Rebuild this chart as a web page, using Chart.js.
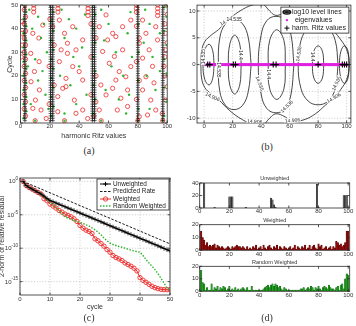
<!DOCTYPE html>
<html>
<head>
<meta charset="utf-8">
<script src="https://cdn.jsdelivr.net/npm/chart.js@4.4.1/dist/chart.umd.min.js"></script>
<style>
  html, body { margin: 0; padding: 0; background: #fff; }
  body { width: 356px; height: 326px; position: relative; overflow: hidden; }
  canvas { position: absolute; }
  .cap { position: absolute; width: 40px; margin-left: -20px; text-align: center;
         font: 10px "Liberation Serif", "DejaVu Serif", serif; color: #333; line-height: 10px; }
</style>
</head>
<body>
<canvas id="chartA" width="172" height="141" style="left:0;top:0"></canvas>
<canvas id="chartB" width="178" height="141" style="left:178px;top:0"></canvas>
<canvas id="chartC" width="178" height="150" style="left:0;top:163px"></canvas>
<canvas id="chartD1" width="178" height="50" style="left:178px;top:170px"></canvas>
<canvas id="chartD2" width="178" height="50" style="left:178px;top:212px"></canvas>
<canvas id="chartD3" width="178" height="50" style="left:178px;top:253px"></canvas>
<div class="cap" style="left:89px;top:146px">(a)</div>
<div class="cap" style="left:267px;top:142px">(b)</div>
<div class="cap" style="left:89px;top:313px">(c)</div>
<div class="cap" style="left:267px;top:313px">(d)</div>
<script>
// ---- data ----
const cycles = [1,2,3,4,5,6,7,8,9,10,11,12,13,14,15,16,17,18,19,20,21,22,23,24,25,
  26,27,28,29,30,31,32,33,34,35,36,37,38,39,40,41,42,43,44,45,46,47,48,49,50];
const eigs = [1,2,3,4,5,6,7,8,9,10,11,12,13,14,15,16,17,18,19,20,21,22,23,24,25,
  26,27,28,29,30,31,32,33,34,35,36,37,38,39,40,41,42,43,44,45,46,47,48,49,50,
  51,52,53,54,55,56,57,58,59,60,61,62,63,64,65,66,67,68,69,70,71,72,73,74,75,
  76,77,78,79,80,81,82,83,84,85,86,87,88,89,90,91,92,93,94,95,96,97,98,99,100];

// (a) harmonic Ritz values per cycle
const ritzTracks = [3, 20.5, 22, 49, 50.5, 80, 97];
const weightedRitz = [
  [3.5,3],[2.5,6],[3.5,9],[2.5,12],[3.5,15],[2.5,18],[3.5,21],[2.5,24],[3.5,27],[2.5,30],[3.5,33],
  [2.5,36],[3.5,39],[2.5,42],[3.5,45],[2.5,48],[3,50],[1,33],[1,38],[1,43],[0.5,28],
  [9,50],[9,48.5],[9,47],[25.5,50],[25.5,48.5],[25.5,47],[46,50],[46,48.5],[46,47],[46,45.5],
  [79,50],[79,48.5],[79,47],[93.5,50],[93.5,48.5],[93.5,47],[93.5,45.5],
  [8.4,38],[15.2,41.5],[12.5,36],[7,29.5],[12.7,26],[9.5,21.8],[7.2,17.5],[12.9,14],[10.2,9.7],
  [14,5.5],[17.5,1.9],[8.4,6.2],[22,40.8],[26.5,43.6],[30,38],[35.6,40.8],[32,33.8],[37.8,31],
  [42.4,35.2],[32,29.5],[26.5,26],[35.6,23.9],[40,21.8],[42.4,18.2],[31,15.4],[25.4,11.2],
  [36.7,9.7],[42.4,5.5],[37.8,4.1],[25.4,4.8],[45.8,1.9],[31,18.9],[27.7,31],[28.8,14.7],
  [53.7,40.8],[58.3,45.8],[62.8,38],[59.4,35.2],[65,36.6],[56,30.3],[64,28.2],[69.6,31],
  [60.5,25.3],[67.3,21.8],[71.8,19.6],[65,18.2],[62.8,14.7],[58.3,11.9],[68.4,10.5],[73,7],
  [66,5.5],[53.7,5.5],[51.4,9],[54.8,16.1],[69.6,40.8],[75.2,43.6],[73,14],[75.2,23.9],
  [83.2,43.6],[85.5,38],[81,33.8],[87.7,31],[83.2,27.5],[90,24],[85.5,19.6],[91,17],[83.2,14],
  [88.8,9.7],[92.2,5.5],[86.6,3.4],[81,2.7],[93.4,35.2],[92.2,40.8],[99,38],[99,31],[97.8,24],
  [100,15.4],[99,9.7],[96.6,4],
  [19.5,8],[23,16],[19.5,24],[23,33],[20,44],[48,12],[51.5,20],[48,28],[51.5,36],[48,42],[50,3],
  [79,10],[81,18],[79,26],[81,36],[79,41],[98.5,20],[98.5,28],[100,34],[98.5,42],[100,46],[99.5,50],
  [10,1],[30,1],[55,1],[80,1],[97,1]
];
const randomRitz = [
  [2,2],[4,5],[2,8],[4,11],[2,14],[4,17],[2,20],[4,23],[2,26],[4,29],[2,32],[4,35],[2,38],[4,41],
  [2,44],[4,47],[2,50],
  [21,3],[22.5,7],[21,11],[22.5,15],[21,19],[22.5,23],[21,27],[22.5,31],[21,35],[22.5,39],[21,43],[22.5,47],
  [49.5,4],[51,10],[49.5,16],[51,22],[49.5,28],[51,34],[49.5,40],[51,46],[49.5,50],
  [80.5,6],[80.5,18],[80.5,30],[80.5,42],
  [98,3],[99.5,9],[98,15],[99.5,21],[98,27],[99.5,33],[98,39],[99.5,45],[98,49],
  [6,48],[12,45],[16,42],[8,40],[14,36],[18,30],[10,27],[5,24],[15,22],[12,18],[17,12],[7,8],[19,6],
  [28,48],[33,44],[38,40],[30,36],[36,28],[42,32],[40,24],[27,20],[34,16],[45,12],[38,8],[30,4],
  [44,46],[55,48],[60,42],[57,35],[65,30],[62,24],[70,20],[58,14],[67,10],[72,4],[75,47],[73,38],
  [76,28],[74,12],[85,48],[88,42],[84,34],[90,28],[86,20],[92,14],[88,6],[95,38],[95,22],
  [10,1],[30,1],[55,1],[80,1],[97,1]
];

// (b) level lines of log10 |p(z)| and final values
const finalRitz = [2.5, 4, 20.5, 22, 48.5, 50.5, 80, 97, 98.5, 100];
const level14906 = [[
  [-2.3,0],[-1.8,2.5],[0.5,4.3],[5,5.5],[10,6.5],[18,8.6],[27,10.3],[35,11.2],[41,11.3],[46,10],
  [50,9.2],[55,9.5],[62,10.5],[70,10.3],[78,9.2],[85,7.6],[91,6.2],[96,4.6],[100,2.8],[102,0],
  [100,-2.8],[96,-4.6],[91,-6.2],[85,-7.6],[78,-9.2],[70,-10.3],[62,-10.5],[55,-9.5],[50,-9.2],
  [46,-10],[41,-11.3],[35,-11.2],[27,-10.3],[18,-8.6],[10,-6.5],[5,-5.5],[0.5,-4.3],[-1.8,-2.5],[-2.3,0]
]];
const level14535 = [
  [[7,0],[6,2.6],[3.5,3.8],[0.5,2.8],[-0.8,0],[0.5,-2.8],[3.5,-3.8],[6,-2.6],[7,0]],
  [[33,0],[31,5],[27,7.6],[21,8.4],[15,7.6],[11,5],[10,0],[11,-5],[15,-7.6],[21,-8.4],[27,-7.6],[31,-5],[33,0]],
  [[63,0],[61,5.5],[57,8.2],[50.5,9],[44,8.2],[40,5.5],[38,0],[40,-5.5],[44,-8.2],[50.5,-9],[57,-8.2],[61,-5.5],[63,0]],
  [[94,0],[92,4.5],[87,6.8],[80,7.5],[73,6.8],[68,4.5],[66,0],[68,-4.5],[73,-6.8],[80,-7.5],[87,-6.8],[92,-4.5],[94,0]],
  [[101.5,0],[101,2.5],[98.5,3.5],[96,2.5],[95,0],[96,-2.5],[98.5,-3.5],[101,-2.5],[101.5,0]]
];
const level144 = [
  [[26,0],[25,3.8],[21.5,5.5],[18,3.8],[17,0],[18,-3.8],[21.5,-5.5],[25,-3.8],[26,0]],
  [[57,0],[56,4.5],[51,6.5],[46,4.5],[45,0],[46,-4.5],[51,-6.5],[56,-4.5],[57,0]],
  [[84,0],[83,2.5],[80,3.5],[77,2.5],[76,0],[77,-2.5],[80,-3.5],[83,-2.5],[84,0]]
];
const levelLabels = [
  ['14.906',16,8.2,-28],['14.906',6,-6,25],['14.906',35.5,-10.6,5],['14.906',62,-10.4,-5],['14.906',91,-6.2,-30],
  ['14.535',21,8.4,0],['14.535',10.2,-1,90],['14.535',39,-3.5,70],['14.535',58,-7.8,-45],['14.535',66.3,2,-80],
  ['14.535',92.8,-3.5,-65],['14.535',-0.6,1.5,-90],
  ['14.4',25.7,1.8,90],['14.4',45.3,-1.8,90],['14.4',76.3,1.5,90]
];

// (c) residual norms, log10
const unweightedLog = [0,-0.6,-0.9,-1.15,-1.4,-1.65,-1.9,-2.2,-2.55,-2.85,-3.04,-3.23,-3.42,-3.6,-3.8,
  -3.99,-4.17,-4.36,-4.55,-4.74,-4.93,-5.12,-5.3,-5.49,-5.68,-5.87,-6.06,-6.25,-6.44,-6.63,-6.82,-7.0,
  -7.19,-7.38,-7.57,-7.76,-7.95,-8.14,-8.33,-8.52,-8.7,-8.89,-9.08,-9.27,-9.46,-9.65,-9.84,-10.03,-10.22,-10.4];
const predictedLog = [[1,0],[50,-9.35]];
const weightedLog = [0,-0.6,-0.9,-1.15,-1.4,-1.65,-1.9,-2.6,-2.9,-3.4,-3.7,-4.0,-4.35,-4.6,-4.9,-5.1,-5.3,
  -5.6,-6.0,-6.6,-7.0,-7.3,-7.5,-7.8,-8.6,-8.9,-9.3,-9.7,-10.2,-10.6,-11.1,-11.4,-11.6,-11.85,-12.2,-12.45,
  -12.7,-13.0,-13.4,-14.4,-14.8,-15.1,-15.4,-15.7,-15.9,-16.05,-16.15,-16.2,-16.2,-16.2];
const randomLog = [0,-0.6,-0.9,-1.15,-1.4,-1.65,-1.9,-2.3,-2.7,-3.1,-3.5,-3.9,-4.4,-4.9,-5.3,-5.5,-5.7,
  -5.85,-6.0,-6.1,-6.3,-6.5,-6.7,-6.95,-7.25,-7.6,-8.0,-8.5,-8.9,-9.25,-9.45,-9.6,-9.75,-9.85,-10.0,
  -10.15,-10.3,-10.4,-10.5,-10.6,-11.1,-11.7,-12.2,-12.7,-13.2,-13.8,-14.5,-15.2,-16.0,-16.2];
const residualTickExp = [0, -5, -10, -15];

// (d) distribution over eigenvalues
const unweightedHist = [0,0,40,0,0,0,0,0,0,1, 0,0,0,0,0,0,0,0,0,18, 18,18,0,0,0,0,0,0,0,0,
  1,0,0,0,0,0,0,0,0,0, 0,0,0,0,0,0,0,16,13,5, 1,0,0,0,0,0,0,0,0,0, 0,0,0,0,0,0,0,0,0,0,
  0,0,0,0,0,0,0,0,38,1, 0,0,0,0,0,0,0,0,0,0, 0,0,0,0,0,0,20,20,20,0];
const weightedHist = [15,10,8,4,6,3,4,3,4,5, 2,4,3,2,3,2,1,2,3,2, 1,3,2,3,4,3,3,2,3,2,
  1,3,1,2,1,3,2,4,1,2, 3,1,4,2,1,3,4,2,1,3, 2,4,1,3,2,1,3,2,1,2, 3,1,2,4,1,3,2,1,3,2,
  4,1,2,4,1,3,4,2,1,5, 3,4,1,2,3,1,2,3,1,3, 2,7,6,4,5,3,4,6,15,15];
const randomHist = [17,7,6,1,3,1,1,6,1,3, 2,4,1,3,2,4,3,1,2,4, 1,2,1,3,1,2,1,2,3,2,
  1,3,1,1,4,1,1,1,1,1, 1,1,2,3,4,5,3,5,6,4, 6,5,3,4,2,1,3,2,1,1, 1,1,1,1,1,1,1,2,2,3,
  1,2,3,2,4,3,1,3,2,4, 2,1,3,4,3,2,5,3,2,2, 1,3,4,1,5,6,2,10,14,13];

// ---- helpers ----
const FONT = '"Liberation Sans", Arial, sans-serif';
const INK = '#333';

function scale(o) {
  return {
    type: o.type || 'linear',
    min: o.min, max: o.max, offset: false,
    afterBuildTicks: s => { s.ticks = o.ticks.map(v => ({ value: v })); },
    afterFit: s => {
      if (o.width !== undefined) s.width = o.width;
      if (o.height !== undefined) s.height = o.height;
      s.paddingLeft = 0; s.paddingRight = 0; s.paddingTop = 0; s.paddingBottom = 0;
    },
    ticks: { display: o.showLabels !== false, font: { family: FONT, size: 6 }, color: INK,
             padding: o.pad === undefined ? 1 : o.pad, autoSkip: false, maxRotation: 0,
             callback: v => String(v) },
    grid: { display: false, drawTicks: false },
    border: { display: false },
    title: o.title ? { display: true, text: o.title, color: INK,
                       font: { family: FONT, size: 7 }, padding: o.titlePad || 0 }
                   : { display: false }
  };
}

function baseOptions(padding, scales, frameOpts) {
  return {
    responsive: false, animation: false, events: [],
    layout: { padding },
    elements: { line: { capBezierPoints: false } },
    plugins: { legend: { display: false }, tooltip: { enabled: false }, frame: frameOpts || {} },
    scales
  };
}

// box, inward tick marks and optional dotted grid
const frame = {
  id: 'frame',
  beforeDatasetsDraw(chart, args, o) {
    if (!o.grid) return;
    const { ctx, chartArea: a } = chart;
    const xs = chart.scales.x, ys = chart.scales.y;
    ctx.save();
    ctx.strokeStyle = '#b0b0b0'; ctx.lineWidth = 0.7; ctx.setLineDash([1, 1.8]);
    xs.ticks.forEach(t => {
      const p = xs.getPixelForValue(t.value);
      ctx.beginPath(); ctx.moveTo(p, a.top); ctx.lineTo(p, a.bottom); ctx.stroke();
    });
    ys.ticks.forEach(t => {
      const p = ys.getPixelForValue(t.value);
      ctx.beginPath(); ctx.moveTo(a.left, p); ctx.lineTo(a.right, p); ctx.stroke();
    });
    ctx.restore();
  },
  afterDatasetsDraw(chart) {
    const { ctx, chartArea: a } = chart;
    const xs = chart.scales.x, ys = chart.scales.y;
    const len = 2.5;
    ctx.save();
    ctx.strokeStyle = '#2a2a2a'; ctx.lineWidth = 0.8; ctx.setLineDash([]);
    ctx.strokeRect(a.left, a.top, a.right - a.left, a.bottom - a.top);
    ctx.beginPath();
    xs.ticks.forEach(t => {
      const p = xs.getPixelForValue(t.value);
      ctx.moveTo(p, a.bottom); ctx.lineTo(p, a.bottom - len);
      ctx.moveTo(p, a.top); ctx.lineTo(p, a.top + len);
    });
    ys.ticks.forEach(t => {
      const p = ys.getPixelForValue(t.value);
      ctx.moveTo(a.left, p); ctx.lineTo(a.left + len, p);
      ctx.moveTo(a.right, p); ctx.lineTo(a.right - len, p);
    });
    ctx.stroke();
    ctx.restore();
  }
};

const toXY = pts => pts.map(p => ({ x: p[0], y: p[1] }));

// ---- (a) ----
const trackPts = [];
cycles.forEach(c => ritzTracks.forEach(x => trackPts.push({ x, y: c })));

new Chart(document.getElementById('chartA'), {
  type: 'scatter',
  data: { datasets: [
    { data: trackPts, pointStyle: 'cross', pointRadius: 2, pointBorderColor: '#000', pointBorderWidth: 0.6 },
    { data: toXY(randomRitz), pointRadius: 1.2, pointBackgroundColor: '#2fb52f', pointBorderWidth: 0 },
    { data: toXY(weightedRitz), pointRadius: 2.1, pointBackgroundColor: 'rgba(0,0,0,0)',
      pointBorderColor: '#ee2b2b', pointBorderWidth: 0.8 }
  ] },
  options: baseOptions({ top: 5, right: 4, left: 0, bottom: 0 }, {
    x: scale({ min: 0, max: 100, ticks: [0, 20, 40, 60, 80, 100], height: 18, pad: 0,
               title: 'harmonic Ritz values', titlePad: { top: 0, bottom: 0.8 } }),
    y: scale({ min: 0, max: 50, ticks: [0, 10, 20, 30, 40, 50], width: 20.5, pad: 2.5,
               title: 'Cycle', titlePad: { top: 5.8, bottom: 0 } })
  }),
  plugins: [frame]
});

// ---- (b) ----
const contourSets = [];
[level14906, level14535, level144].forEach(group => group.forEach(loop => contourSets.push({
  data: toXY(loop), showLine: true, tension: 0.4, pointRadius: 0, borderColor: '#1a1a1a', borderWidth: 0.8
})));

const extrasB = {
  id: 'extrasB',
  afterDatasetsDraw(chart) {
    const { ctx } = chart;
    const xs = chart.scales.x, ys = chart.scales.y;
    const a = chart.chartArea;
    ctx.save();
    ctx.beginPath(); ctx.rect(a.left, a.top, a.right - a.left, a.bottom - a.top); ctx.clip();
    ctx.font = '5px ' + FONT; ctx.textAlign = 'center'; ctx.textBaseline = 'middle';
    levelLabels.forEach(([t, x, y, r]) => {
      const px = xs.getPixelForValue(x), py = ys.getPixelForValue(y);
      ctx.save(); ctx.translate(px, py); ctx.rotate(r * Math.PI / 180);
      const w = ctx.measureText(t).width;
      ctx.fillStyle = '#fff'; ctx.fillRect(-w / 2 - 0.5, -2.5, w + 1, 5);
      ctx.fillStyle = '#222'; ctx.fillText(t, 0, 0.3);
      ctx.restore();
    });
    ctx.restore();
  },
  afterDraw(chart) {
    const { ctx, chartArea: a } = chart;
    const bx = a.right - 70, by = a.top + 2, bw = 68, bh = 26;
    ctx.save();
    ctx.fillStyle = '#fff'; ctx.fillRect(bx, by, bw, bh);
    ctx.strokeStyle = '#222'; ctx.lineWidth = 0.8; ctx.strokeRect(bx, by, bw, bh);
    const rows = [by + 5, by + 13, by + 21];
    ctx.fillStyle = '#111';
    ctx.beginPath(); ctx.ellipse(bx + 6, rows[0], 4.5, 2.6, 0, 0, Math.PI * 2); ctx.fill();
    ctx.strokeStyle = '#999'; ctx.lineWidth = 0.5;
    ctx.beginPath(); ctx.ellipse(bx + 6, rows[0], 2.6, 1.4, 0, 0, Math.PI * 2); ctx.stroke();
    ctx.fillStyle = '#e020e0';
    ctx.beginPath(); ctx.arc(bx + 6, rows[1], 1.2, 0, Math.PI * 2); ctx.fill();
    ctx.strokeStyle = '#000'; ctx.lineWidth = 1;
    ctx.beginPath(); ctx.moveTo(bx + 3.5, rows[2]); ctx.lineTo(bx + 8.5, rows[2]);
    ctx.moveTo(bx + 6, rows[2] - 2.5); ctx.lineTo(bx + 6, rows[2] + 2.5); ctx.stroke();
    ctx.fillStyle = '#222'; ctx.font = '7px ' + FONT; ctx.textBaseline = 'middle'; ctx.textAlign = 'left';
    ctx.fillText('log10 level lines', bx + 11, rows[0]);
    ctx.fillText('eigenvalues', bx + 14, rows[1]);
    ctx.fillText('harm. Ritz values', bx + 11, rows[2]);
    ctx.restore();
  }
};

new Chart(document.getElementById('chartB'), {
  type: 'scatter',
  data: { datasets: [
    { data: finalRitz.map(x => ({ x, y: 0 })), pointStyle: 'cross', pointRadius: 3,
      pointBorderColor: '#000', pointBorderWidth: 1.1 },
    { data: eigs.map(x => ({ x, y: 0 })), pointRadius: 1.7, pointBackgroundColor: '#e020e0', pointBorderWidth: 0 }
  ].concat(contourSets) },
  options: baseOptions({ top: 5, right: 5, left: 0, bottom: 0 }, {
    x: scale({ min: -5, max: 103, ticks: [0, 20, 40, 60, 80, 100], height: 18, pad: 0 }),
    y: scale({ min: -10.9, max: 11.1, ticks: [-10, -5, 0, 5, 10], width: 19, pad: 1.5 })
  }, { grid: true }),
  plugins: [frame, extrasB]
});

// ---- (c) ----
const logPts = arr => arr.map((v, i) => ({ x: cycles[i], y: Math.pow(10, v) }));

const extrasC = {
  id: 'extrasC',
  afterDraw(chart) {
    const { ctx, chartArea: a } = chart;
    const ys = chart.scales.y;
    ctx.save();
    ctx.fillStyle = INK; ctx.textAlign = 'right'; ctx.textBaseline = 'middle';
    residualTickExp.forEach(e => {
      const p = ys.getPixelForValue(Math.pow(10, e));
      ctx.font = '4.5px ' + FONT;
      const sup = String(e);
      const ew = ctx.measureText(sup).width;
      ctx.fillText(sup, a.left - 2, p - 2.5);
      ctx.font = '6px ' + FONT;
      ctx.fillText('10', a.left - 2 - ew, p + 0.5);
    });
    // legend
    const bx = a.right - 73, by = a.top + 1, bw = 72, bh = 31;
    ctx.fillStyle = '#fff'; ctx.fillRect(bx, by, bw, bh);
    ctx.strokeStyle = '#222'; ctx.lineWidth = 0.8; ctx.setLineDash([]); ctx.strokeRect(bx, by, bw, bh);
    const rows = [by + 5, by + 12.5, by + 20, by + 27];
    const x0 = bx + 3, x1 = bx + 14, xm = (x0 + x1) / 2;
    const seg = (y, color, dash, w) => {
      ctx.strokeStyle = color; ctx.lineWidth = w; ctx.setLineDash(dash);
      ctx.beginPath(); ctx.moveTo(x0, y); ctx.lineTo(x1, y); ctx.stroke(); ctx.setLineDash([]);
    };
    seg(rows[0], '#000', [], 1);
    ctx.beginPath(); ctx.moveTo(xm - 2.2, rows[0]); ctx.lineTo(xm + 2.2, rows[0]);
    ctx.moveTo(xm, rows[0] - 2.2); ctx.lineTo(xm, rows[0] + 2.2); ctx.stroke();
    seg(rows[1], '#000', [2.5, 1.5], 0.9);
    seg(rows[2], '#ee2b2b', [], 1);
    ctx.strokeStyle = '#ee2b2b'; ctx.lineWidth = 0.9;
    ctx.beginPath(); ctx.arc(xm, rows[2], 2.2, 0, Math.PI * 2); ctx.stroke();
    seg(rows[3], '#2fb52f', [1.5, 1.5], 1.4);
    ctx.fillStyle = '#222'; ctx.font = '6.4px ' + FONT; ctx.textAlign = 'left';
    ['Unweighted', 'Predicted Rate', 'Weighted', 'Random Weighted'].forEach((t, i) => ctx.fillText(t, bx + 16, rows[i]));
    ctx.restore();
  }
};

new Chart(document.getElementById('chartC'), {
  type: 'scatter',
  data: { datasets: [
    { data: logPts(unweightedLog), showLine: true, borderColor: '#000', borderWidth: 1.1,
      pointStyle: 'cross', pointRadius: 2.2, pointBorderColor: '#000', pointBorderWidth: 0.8 },
    { data: predictedLog.map(p => ({ x: p[0], y: Math.pow(10, p[1]) })), showLine: true,
      borderColor: '#000', borderWidth: 0.9, borderDash: [2.5, 1.5], pointRadius: 0 },
    { data: logPts(randomLog), showLine: true, borderColor: '#2fb52f', borderWidth: 1.4,
      borderDash: [1.5, 1.5], pointRadius: 0 },
    { data: logPts(weightedLog), showLine: true, borderColor: '#ee2b2b', borderWidth: 1,
      pointRadius: 2.2, pointBackgroundColor: 'rgba(0,0,0,0)', pointBorderColor: '#ee2b2b', pointBorderWidth: 0.9 }
  ] },
  options: baseOptions({ top: 15, right: 8, left: 0, bottom: 0 }, {
    x: scale({ min: 0, max: 50, ticks: [0, 10, 20, 30, 40, 50], height: 18, pad: 1,
               title: 'cycle', titlePad: { top: 0, bottom: 1.8 } }),
    y: scale({ type: 'logarithmic', min: Math.pow(10, -17), max: Math.pow(10, 0.5),
               ticks: residualTickExp.map(e => Math.pow(10, e)), width: 20, showLabels: false,
               title: '2-norm of relative residual', titlePad: { top: -2.6, bottom: 0 } })
  }, { grid: true }),
  plugins: [frame, extrasC]
});

// ---- (d) ----
function histChart(id, title, values, fill, edge, yMax, yTicks, top, xh) {
  const titlePlugin = {
    id: 'histTitle',
    afterDraw(chart) {
      const { ctx, chartArea: a } = chart;
      ctx.save();
      ctx.fillStyle = INK; ctx.font = '5.5px ' + FONT; ctx.textAlign = 'center'; ctx.textBaseline = 'bottom';
      ctx.fillText(title, (a.left + a.right) / 2, a.top - 1.5);
      ctx.restore();
    }
  };
  new Chart(document.getElementById(id), {
    type: 'bar',
    data: { datasets: [{
      data: values.map((v, i) => ({ x: eigs[i], y: v })),
      backgroundColor: fill, borderColor: edge, borderWidth: 0.4,
      barPercentage: 1, categoryPercentage: 1, grouped: false
    }] },
    options: baseOptions({ top, right: 6.3, left: 0, bottom: 0 }, {
      x: scale({ min: 0, max: 101, ticks: [0, 20, 40, 60, 80, 100], height: xh, pad: 0 }),
      y: scale({ min: 0, max: yMax, ticks: yTicks, width: 21.7, pad: 1 })
    }),
    plugins: [frame, titlePlugin]
  });
}
histChart('chartD1', 'Unweighted', unweightedHist, '#6a6a6a', '#000', 40, [0, 20, 40], 13, 12);
histChart('chartD2', 'Weighted', weightedHist, '#9a0a0a', '#3a0000', 20, [0, 10, 20], 12.7, 11.7);
histChart('chartD3', 'Random Weighted', randomHist, '#22a322', '#0a4a0a', 20, [0, 10, 20], 13.3, 11.7);
</script>
</body>
</html>
